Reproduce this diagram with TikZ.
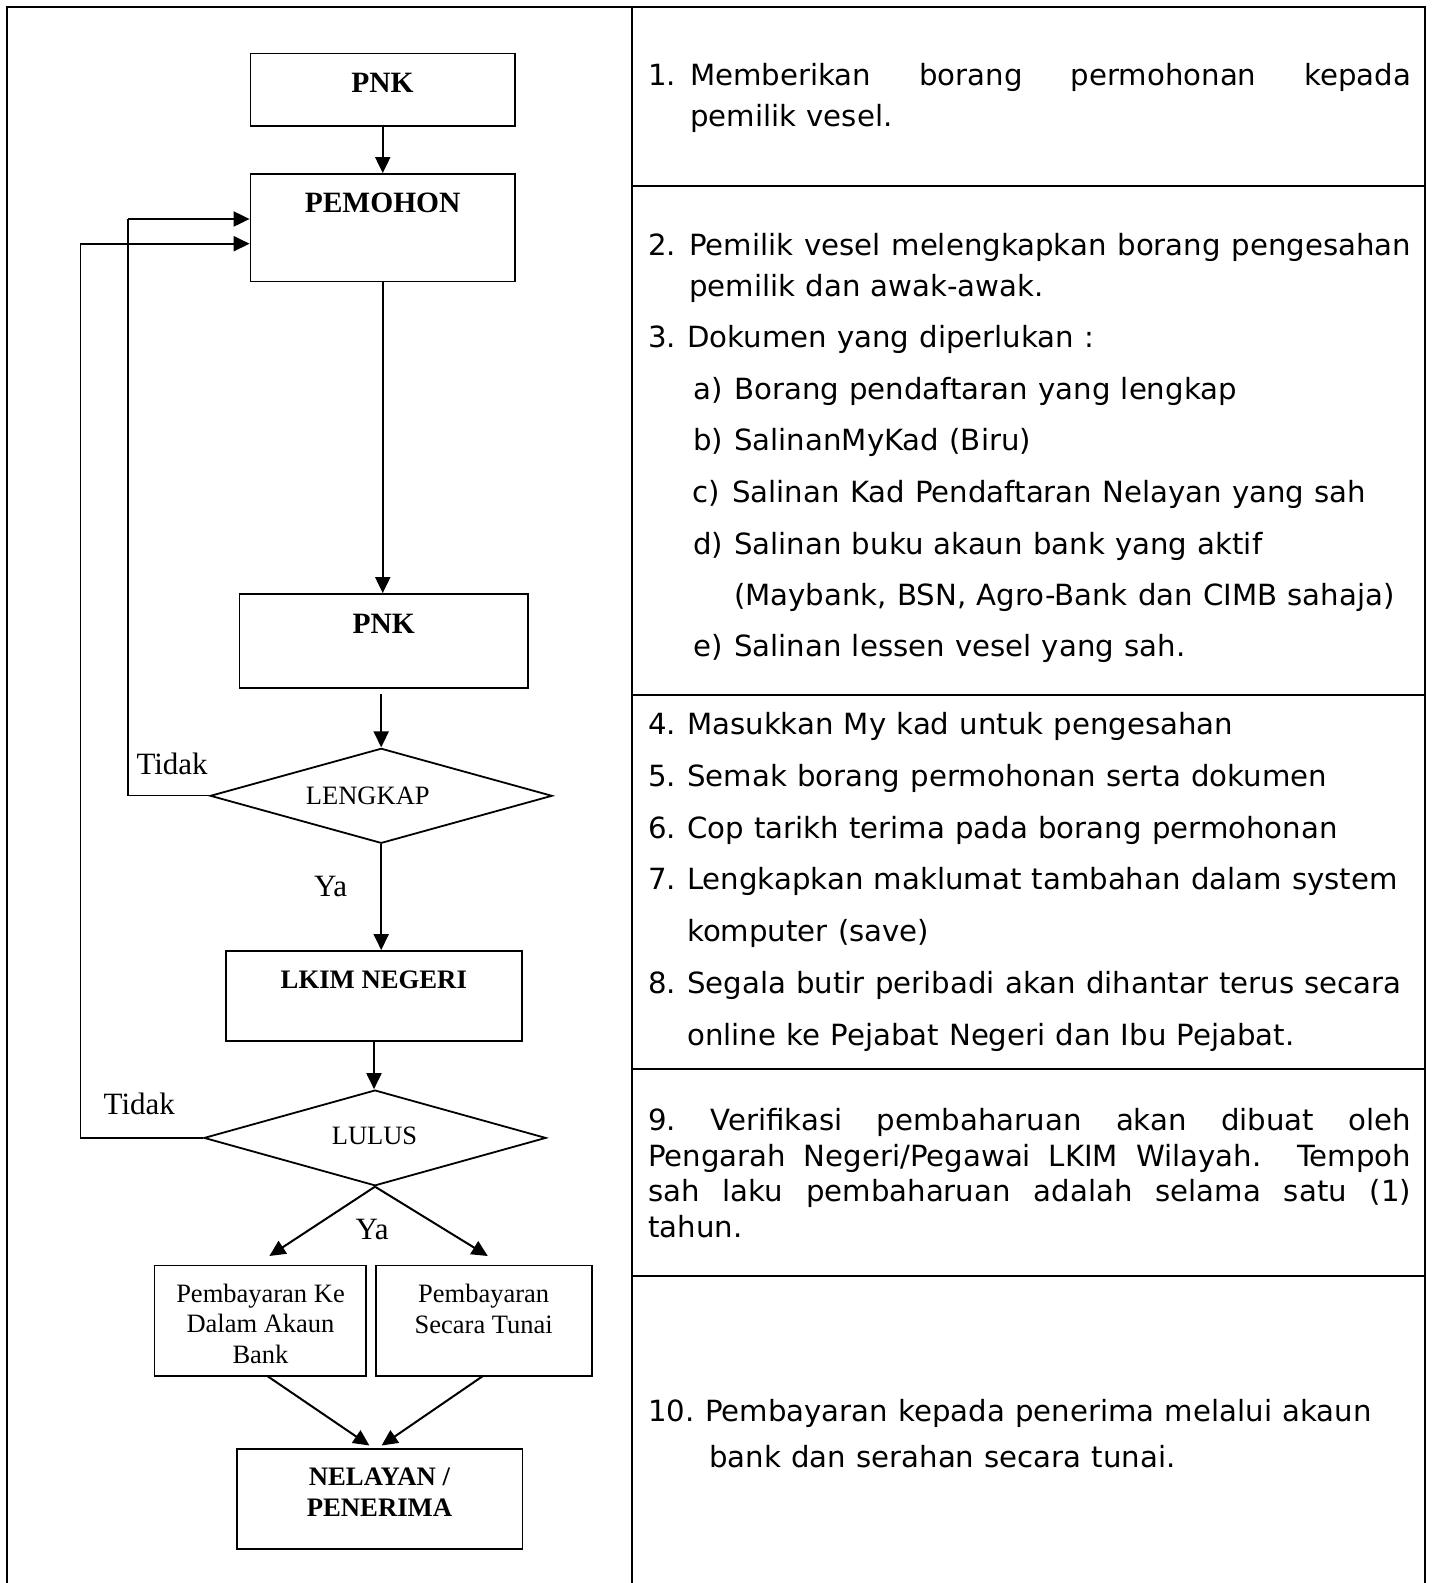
\documentclass[tikz,border=0pt]{standalone}
\usepackage{fontspec}
\setmainfont{Liberation Serif}
\newfontfamily\verd{DejaVu Sans}[WordSpace=1.1]
\usetikzlibrary{arrows.meta,shapes.geometric}

% font sizes (1pt = 1 drawing unit)
\newcommand\rfont{\verd\fontsize{29.2}{34}\selectfont}
\newcommand\hdfont{\bfseries\fontsize{29.5}{34}\selectfont}
\newcommand\hdsfont{\bfseries\fontsize{26.7}{31}\selectfont}
\newcommand\lblfont{\fontsize{26.5}{30}\selectfont}
\newcommand\yesfont{\fontsize{31}{34}\selectfont}

\begin{document}
\frenchspacing
\begin{tikzpicture}[x=1pt, y=-1pt,
  frame/.style={line width=2pt},
  box/.style={draw, rectangle, line width=1.8pt, inner sep=0pt},
  dbox/.style={draw, diamond, line width=1.8pt, inner sep=0pt},
  arr/.style={line width=2pt, -{Triangle[length=16pt,width=15pt]}},
  fb/.style={line width=1.2pt},
  ctext/.style={anchor=base, inner sep=0pt},
  ltext/.style={anchor=base west, inner sep=0pt},
  rtext/.style={anchor=base west, inner sep=0pt, font=\rfont}]

% page background and fixed extent
\fill[white] (0,0) rectangle (1432,1583);
\useasboundingbox (0,0) rectangle (1432,1583);

% ---------- table frame ----------
\draw[frame] (7,1583) -- (7,7) -- (1425,7) -- (1425,1583);
\draw[frame] (632,7) -- (632,1583);
\draw[frame] (632,186) -- (1425,186);
\draw[frame] (632,694.5) -- (1425,694.5);
\draw[frame] (632,1068.5) -- (1425,1068.5);
\draw[frame] (632,1276) -- (1425,1276);

% ---------- flowchart ----------
\node[box, minimum width=264.5pt, minimum height=72.5pt]  (pnk1)    at (382.75,89.75) {};
\node[box, minimum width=264.5pt, minimum height=107.5pt] (pemohon) at (382.75,227.75) {};
\node[box, minimum width=288.5pt, minimum height=94pt]    (pnk2)    at (383.75,641) {};
\node[dbox, minimum width=342pt, minimum height=95pt]     (lengkap) at (381.2,795.8) {};
\node[box, minimum width=296pt, minimum height=89.7pt]    (lkim)    at (374,995.85) {};
\node[dbox, minimum width=342pt, minimum height=95.7pt]   (lulus)   at (375,1137.9) {};
\node[box, minimum width=211.5pt, minimum height=110.5pt] (payL)    at (260.25,1320.75) {};
\node[box, minimum width=216.7pt, minimum height=110.5pt] (payR)    at (483.95,1320.75) {};
\node[box, minimum width=285.4pt, minimum height=100pt]   (nel)     at (379.7,1499) {};

% box texts
\node[ctext, font=\hdfont]  (tpnk1)    at (382.5,92.7)  {PNK};
\node[ctext, font=\hdfont]  (tpemohon) at (382.6,212.7) {PEMOHON};
\node[ctext, font=\hdfont]  (tpnk2)    at (383.7,633.3) {PNK};
\node[ctext, font=\lblfont] (tlengkap) at (367.8,804)   {LENGKAP};
\node[ctext, font=\hdsfont] (tlkim)    at (373.8,988)   {LKIM NEGERI};
\node[ctext, font=\lblfont] (tlulus)   at (374.5,1144.5) {LULUS};
\node[ctext, font=\lblfont] (tpayLa)   at (260.5,1302)  {Pembayaran Ke};
\node[ctext, font=\lblfont] (tpayLb)   at (260.5,1332.5) {Dalam Akaun};
\node[ctext, font=\lblfont] (tpayLc)   at (260.5,1363)  {Bank};
\node[ctext, font=\lblfont] (tpayRa)   at (483.7,1302)  {Pembayaran};
\node[ctext, font=\lblfont] (tpayRb)   at (483.7,1333)  {Secara Tunai};
\node[ctext, font=\hdsfont] (tnela)    at (379.5,1485.5) {NELAYAN /};
\node[ctext, font=\hdsfont] (tnelb)    at (379.5,1516)  {PENERIMA};

% branch labels
\node[ltext, font=\yesfont] (tidakA) at (136.3,774.8)  {Tidak};
\node[ltext, font=\yesfont] (yaA)    at (314,896.3)    {Ya};
\node[ltext, font=\yesfont] (tidakB) at (103.5,1114.5) {Tidak};
\node[ltext, font=\yesfont] (yaB)    at (355.5,1239)   {Ya};

% main flow
\draw[arr] (pnk1.south) -- (pemohon.north);
\draw[arr] (pemohon.south) -- (pemohon.south |- pnk2.north);
\coordinate (pnk2out) at ([yshift=-5pt]pnk2.south);
\draw[arr] (pnk2out -| lengkap.north) -- (lengkap.north);
\draw[arr] (lengkap.south) -- (lengkap.south |- lkim.north);
\draw[arr] (lkim.south) -- (lkim.south |- lulus.north);

% split to the two payment methods
\coordinate (tipL) at (269.4,1256);
\coordinate (tipR) at (487.8,1256);
\draw[arr] (lulus.south) -- (tipL);
\draw[arr] (lulus.south) -- (tipR);

% merge into the recipient
\coordinate (outL) at (267.3,1376);
\coordinate (outR) at (482.9,1376);
\coordinate (inL)  at (369.4,1445.5);
\coordinate (inR)  at (381.6,1445.5);
\draw[arr] (outL) -- (inL);
\draw[arr] (outR) -- (inR);

% "Tidak" return paths
\coordinate (fbA) at (128,219);
\draw[fb] (lengkap.west) -| (fbA);
\draw[arr] (fbA) -- (fbA -| pemohon.west);
\coordinate (fbB) at (80.4,243.7);
\draw[fb] (lulus.west) -| (fbB);
\draw[arr] (fbB) -- (fbB -| pemohon.west);

% ---------- procedure notes ----------
% 1
\node[rtext] (n1)  at (648,85)    {1.};
\node[rtext] (n1a) at (690,85)    {\makebox[721pt][s]{Memberikan borang permohonan kepada}};
\node[rtext] (n1b) at (690,126)   {pemilik vesel.};
% 2
\node[rtext] (n2)  at (648,255)   {2.};
\node[rtext] (n2a) at (689,255)   {\makebox[722pt][s]{Pemilik vesel melengkapkan borang pengesahan}};
\node[rtext] (n2b) at (689,296.5) {pemilik dan awak-awak.};
% 3
\node[rtext] (n3)  at (648,347.5) {3.};
\node[rtext] (n3a) at (687,347.5) {Dokumen yang diperlukan :};
\node[rtext] (sa)  at (693,399)   {a)};
\node[rtext] (sat) at (734,399)   {Borang pendaftaran yang lengkap};
\node[rtext] (sb)  at (693,450.5) {b)};
\node[rtext] (sbt) at (734,450.5) {SalinanMyKad (Biru)};
\node[rtext] (sc)  at (692,502.5) {c)};
\node[rtext] (sct) at (732,502.5) {Salinan Kad Pendaftaran Nelayan yang sah};
\node[rtext] (sd)  at (693,554)   {d)};
\node[rtext] (sdt) at (734,554)   {Salinan buku akaun bank yang aktif};
\node[rtext] (sdu) at (734,605.5) {(Maybank, BSN, Agro-Bank dan CIMB sahaja)};
\node[rtext] (se)  at (693,656.5) {e)};
\node[rtext] (set) at (734,656.5) {Salinan lessen vesel yang sah.};
% 4 - 8
\node[rtext] (n4)  at (648,734.5)  {4.};
\node[rtext] (n4a) at (687,734.5)  {Masukkan My kad untuk pengesahan};
\node[rtext] (n5)  at (648,786.3)  {5.};
\node[rtext] (n5a) at (687,786.3)  {Semak borang permohonan serta dokumen};
\node[rtext] (n6)  at (648,838.1)  {6.};
\node[rtext] (n6a) at (687,838.1)  {Cop tarikh terima pada borang permohonan};
\node[rtext] (n7)  at (648,889.9)  {7.};
\node[rtext] (n7a) at (687,889.9)  {Lengkapkan maklumat tambahan dalam system};
\node[rtext] (n7b) at (687,941.7)  {komputer (save)};
\node[rtext] (n8)  at (648,993.5)  {8.};
\node[rtext] (n8a) at (687,993.5)  {Segala butir peribadi akan dihantar terus secara};
\node[rtext] (n8b) at (687,1045.3) {online ke Pejabat Negeri dan Ibu Pejabat.};
% 9
\node[rtext] (n9a) at (648,1130)   {\makebox[763pt][s]{9. Verifikasi pembaharuan akan dibuat oleh}};
\node[rtext] (n9b) at (648,1166.5) {\makebox[763pt][s]{Pengarah Negeri/Pegawai LKIM Wilayah.\ \ Tempoh}};
\node[rtext] (n9c) at (648,1201.5) {\makebox[763pt][s]{sah laku pembaharuan adalah selama satu (1)}};
\node[rtext] (n9d) at (648,1237)   {tahun.};
% 10
\node[rtext] (n10)  at (648,1421.5) {10.};
\node[rtext] (n10a) at (705,1421.5) {Pembayaran kepada penerima melalui akaun};
\node[rtext] (n10b) at (709,1467)   {bank dan serahan secara tunai.};

\end{tikzpicture}
\end{document}
